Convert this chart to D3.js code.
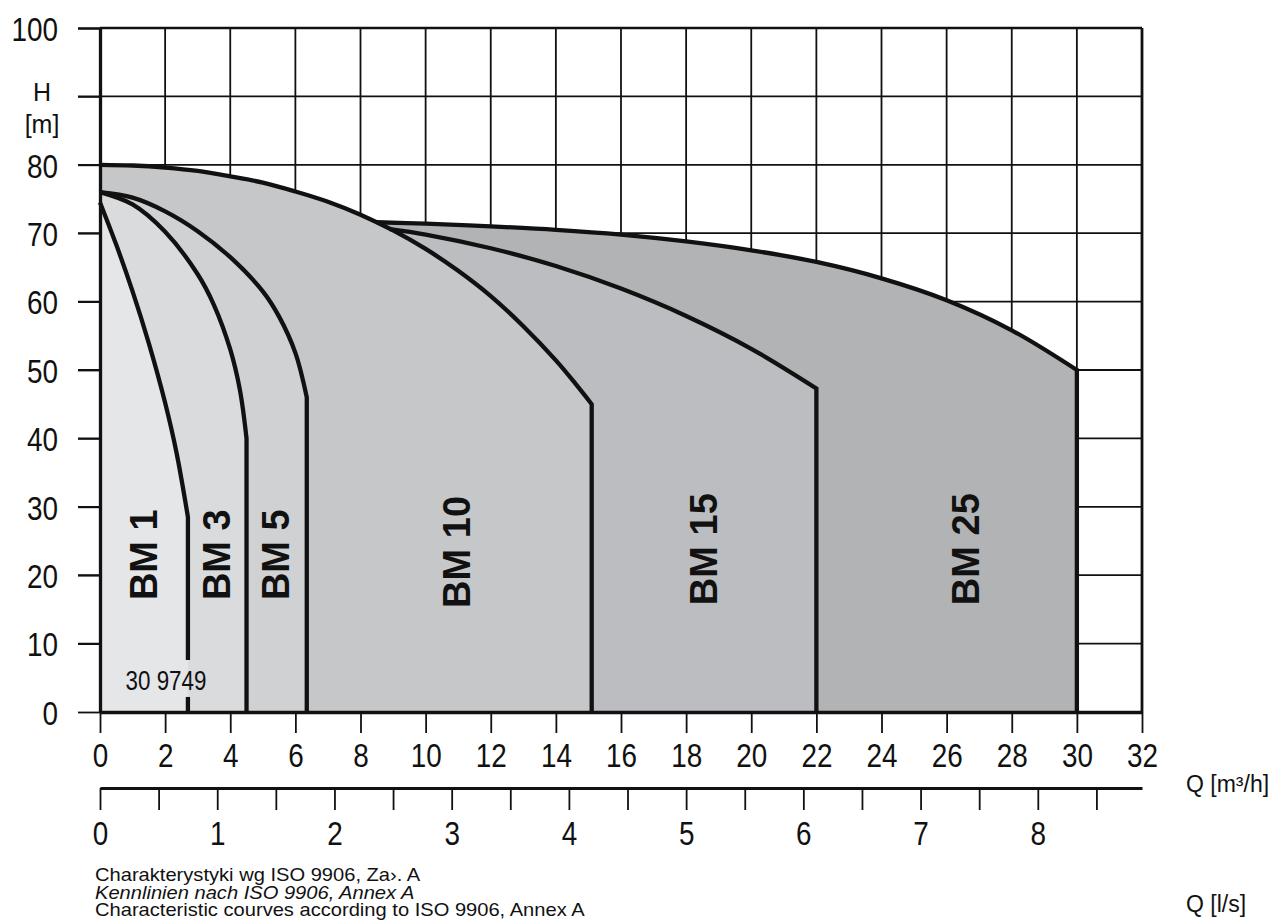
<!DOCTYPE html>
<html>
<head>
<meta charset="utf-8">
<script src="https://cdn.jsdelivr.net/npm/d3@7"></script>
<style>
  body { margin: 0; background: #fff; }
  svg { display: block; }
  text { font-family: "Liberation Sans", Arial, Helvetica, sans-serif; fill: #111; }
</style>
</head>
<body>
<svg id="chart" width="1283" height="924"></svg>
<script>
// Pump characteristic curves, H [m] over Q [m3/h]
const seriesNames = ["BM 1", "BM 3", "BM 5", "BM 10", "BM 15", "BM 25"];

const bm1Q  = [0, 0.5, 1.0, 1.5, 2.0, 2.35, 2.7];
const bm1H  = [74.5, 68.3, 61.5, 53.9, 45.2, 37.9, 28.5];

const bm3Q  = [0, 1, 2, 3, 3.5, 4.0, 4.3, 4.5];
const bm3H  = [76, 74.2, 70.2, 64, 59.5, 53, 47, 40];

const bm5Q  = [0, 1, 2, 3, 4, 5, 5.5, 6, 6.35];
const bm5H  = [76, 75.2, 73.2, 70.3, 66.5, 61.5, 57.8, 52.5, 46];

const bm10Q = [0, 1, 2, 3, 4, 5, 6, 7, 8, 9, 10, 11, 12, 13, 14, 14.6, 15.1];
const bm10H = [80, 79.9, 79.6, 79.1, 78.3, 77.4, 76.1, 74.6, 72.7, 70.4, 67.7, 64.5, 60.8, 56.4, 51.4, 48, 45];

const bm15Q = [8.9, 10, 12, 14, 16, 18, 20, 22];
const bm15H = [70.6, 69.8, 67.8, 65.2, 61.9, 57.9, 53.1, 47.3];

const bm25Q = [8.5, 10, 12, 14, 16, 18, 20, 22, 24, 26, 28, 30];
const bm25H = [71.6, 71.4, 71.0, 70.5, 69.8, 68.8, 67.5, 65.8, 63.4, 60.2, 55.8, 50];

// label anchors (Q, H) for the rotated series names
const labelQ = [1.32, 3.56, 5.38, 10.93, 18.52, 26.56];
const labelH = [23, 23, 23, 23.4, 23.8, 23.8];

const fillColors = ["#e5e6e8", "#dadbdd", "#d0d1d3", "#c6c7c9", "#bcbdc0", "#b2b3b5"];

// axis tick values
const qTicks  = d3.range(0, 33, 2);          // m3/h
const hTicks  = d3.range(0, 101, 10);        // m
const lsTicks = d3.range(0, 8.51, 0.5);      // l/s

// gap in the BM 1 end line, around the drawing number
const bm1GapTop = 7.6, bm1GapBottom = 2.2;

const series = seriesNames.map((name, i) => {
  const qs = [bm1Q, bm3Q, bm5Q, bm10Q, bm15Q, bm25Q][i];
  const hs = [bm1H, bm3H, bm5H, bm10H, bm15H, bm25H][i];
  return { name, pts: qs.map((q, j) => [q, hs[j]]), color: fillColors[i], lq: labelQ[i], lh: labelH[i] };
});

const svg = d3.select("#chart");
const x  = d3.scaleLinear([0, 32], [100, 1142]);
const y  = d3.scaleLinear([0, 100], [712, 28]);
const xl = d3.scaleLinear([0, 32 / 3.6], [100, 1142]);

const ink = "#111";

// grid
const grid = svg.append("g");
grid.selectAll("line.v").data(qTicks.filter(q => q > 0 && q < 32)).join("line")
  .attr("x1", d => x(d)).attr("x2", d => x(d))
  .attr("y1", y(100)).attr("y2", y(0))
  .attr("stroke", ink).attr("stroke-width", 1.8);
grid.selectAll("line.h").data(hTicks.filter(h => h > 0 && h < 100)).join("line")
  .attr("x1", 78).attr("x2", x(32))
  .attr("y1", d => y(d)).attr("y2", d => y(d))
  .attr("stroke", ink).attr("stroke-width", 1.8);

// filled operating ranges, widest first
const curve = d3.line().x(d => x(d[0])).y(d => y(d[1])).curve(d3.curveCatmullRom.alpha(0.5));
svg.append("g").selectAll("path").data(series.slice().reverse()).join("path")
  .attr("d", s => {
    const last = s.pts[s.pts.length - 1], first = s.pts[0];
    return curve(s.pts) +
      `L${x(last[0])},${y(0)}L${x(0)},${y(0)}L${x(0)},${y(first[1])}L${x(first[0])},${y(first[1])}Z`;
  })
  .attr("fill", s => s.color);

// curve outlines with their end-of-range verticals
const outlines = svg.append("g").attr("fill", "none").attr("stroke", ink)
  .attr("stroke-width", 4.3).attr("stroke-linejoin", "miter");
series.forEach((s, i) => {
  const last = s.pts[s.pts.length - 1];
  const bottom = i === 0 ? bm1GapTop : 0;
  outlines.append("path").attr("d", curve(s.pts) + `L${x(last[0])},${y(bottom)}`);
  if (i === 0) {
    outlines.append("path").attr("d", `M${x(last[0])},${y(bm1GapBottom)}L${x(last[0])},${y(0)}`);
  }
});

// series names
svg.append("g").selectAll("text").data(series).join("text")
  .attr("transform", s => `translate(${x(s.lq)},${y(s.lh)}) rotate(-90)`)
  .attr("text-anchor", "middle").attr("dy", "0.36em")
  .attr("font-size", 38).attr("font-weight", "bold")
  .text(s => s.name);

// drawing number
svg.append("text")
  .attr("transform", "translate(166,690) scale(0.8,1)")
  .attr("text-anchor", "middle").attr("font-size", 28)
  .text("30 9749");

// left axis
const gy = svg.append("g").attr("transform", `translate(${x(0)},0)`)
  .call(d3.axisLeft(y).tickValues(hTicks).tickSize(22).tickSizeOuter(0)
    .tickFormat(d => d === 90 ? "" : d));
gy.attr("font-size", null).attr("font-family", null);
gy.select(".domain").attr("stroke", ink).attr("stroke-width", 3.3);
gy.selectAll(".tick line").attr("stroke", ink).attr("stroke-width", d => d === 100 ? 2.6 : 1.8);
gy.selectAll(".tick text")
  .attr("x", 0).attr("dy", "0.36em").attr("font-size", 34).attr("fill", ink)
  .attr("transform", "translate(-42,0) scale(0.82,1)");

// top and right frame
svg.append("line").attr("x1", x(0)).attr("x2", x(32)).attr("y1", y(100)).attr("y2", y(100))
  .attr("stroke", ink).attr("stroke-width", 2.6);
svg.append("line").attr("x1", x(32)).attr("x2", x(32)).attr("y1", y(100)).attr("y2", y(0))
  .attr("stroke", ink).attr("stroke-width", 2.8);

// bottom axis, m3/h
const gx = svg.append("g").attr("transform", `translate(0,${y(0)})`)
  .call(d3.axisBottom(x).tickValues(qTicks).tickSize(21).tickSizeOuter(0).tickPadding(0));
gx.attr("font-size", null).attr("font-family", null);
gx.select(".domain").attr("stroke", ink).attr("stroke-width", 3.4);
gx.selectAll(".tick line").attr("stroke", ink).attr("stroke-width", 1.8);
gx.selectAll(".tick text")
  .attr("y", 55).attr("dy", 0).attr("font-size", 34).attr("fill", ink)
  .attr("transform", "scale(0.82,1)");

// second axis, l/s
const gl = svg.append("g").attr("transform", "translate(0,788)")
  .call(d3.axisBottom(xl).tickValues(lsTicks).tickSize(22).tickSizeOuter(0).tickPadding(0)
    .tickFormat(d => Number.isInteger(d) ? d : ""));
gl.attr("font-size", null).attr("font-family", null);
gl.select(".domain").attr("stroke", ink).attr("stroke-width", 3.2);
gl.selectAll(".tick line").attr("stroke", ink).attr("stroke-width", 1.8);
gl.selectAll(".tick text")
  .attr("y", 57).attr("dy", 0).attr("font-size", 34).attr("fill", ink)
  .attr("transform", "scale(0.82,1)");

// axis titles
svg.append("text").attr("x", 42).attr("y", 101).attr("text-anchor", "middle")
  .attr("font-size", 25).attr("fill", "#222").text("H");
svg.append("text").attr("x", 42).attr("y", 133).attr("text-anchor", "middle")
  .attr("font-size", 25).attr("fill", "#222").text("[m]");
svg.append("text").attr("x", 1186).attr("y", 792).attr("font-size", 23).attr("fill", "#222").text("Q [m³/h]");
svg.append("text").attr("x", 1186).attr("y", 912).attr("font-size", 23).attr("fill", "#222").text("Q [l/s]");

// footnote
const notes = [
  { t: "Charakterystyki wg ISO 9906, Za›. A", italic: false },
  { t: "Kennlinien nach ISO 9906, Annex A", italic: true },
  { t: "Characteristic courves according to ISO 9906, Annex A", italic: false }
];
svg.append("g").attr("transform", "translate(95,0) scale(1.15,1)")
  .selectAll("text").data(notes).join("text")
  .attr("x", 0).attr("y", (d, i) => 881.5 + i * 17.5)
  .attr("font-size", 17.5).attr("fill", "#222")
  .attr("font-style", d => d.italic ? "italic" : "normal")
  .text(d => d.t);
</script>
</body>
</html>
